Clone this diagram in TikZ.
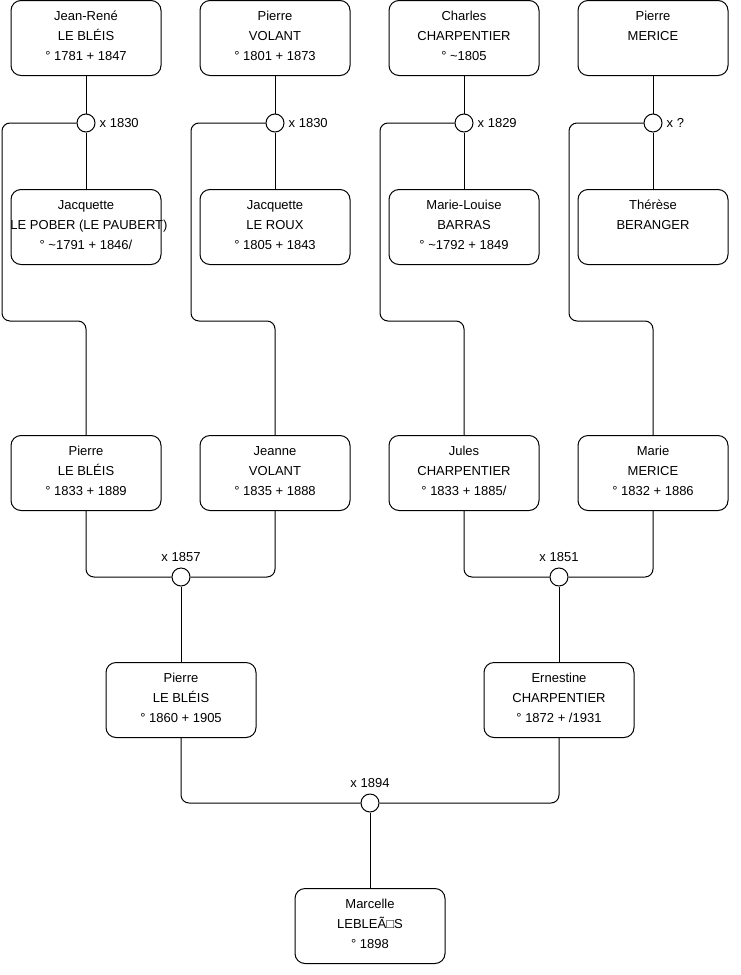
\documentclass[tikz,border=0pt]{standalone}
\usepackage{fontspec}
\setmainfont{Liberation Sans}
\begin{document}
\begin{tikzpicture}[x=1pt,y=-1pt,
  person/.style={draw=black,line width=1pt,rounded corners=10pt,minimum width=150pt,minimum height=75pt,inner sep=0pt,align=center,font=\fontsize{13pt}{20pt}\selectfont,text depth=4pt},
  wed/.style={draw=black,fill=white,line width=1pt,circle,minimum size=18pt,inner sep=0pt},
  lbl/.style={font=\fontsize{13pt}{15pt}\selectfont,inner sep=0pt},
  link/.style={draw=black,line width=1pt,rounded corners=8pt}]
\useasboundingbox (0,0) rectangle (740,975);
\fill[white] (0,0) rectangle (740,975);
% row 1
\node[person] (a1) at (86,38) {Jean-René\\LE BLÉIS\\° 1781 + 1847};
\node[person] (a2) at (275,38) {Pierre\\VOLANT\\° 1801 + 1873};
\node[person] (a3) at (464,38) {Charles\\CHARPENTIER\\° \textasciitilde1805};
\node[person] (a4) at (653,38) {Pierre\\MERICE\\\strut};
% row 2
\node[person] (b1) at (86,227) {Jacquette\\\makebox[0pt]{\hspace*{6pt}LE POBER (LE PAUBERT)}\\° \textasciitilde1791 + 1846/};
\node[person] (b2) at (275,227) {Jacquette\\LE ROUX\\° 1805 + 1843};
\node[person] (b3) at (464,227) {Marie-Louise\\BARRAS\\° \textasciitilde1792 + 1849};
\node[person] (b4) at (653,227) {Thérèse\\BERANGER\\\strut};
% row 3
\node[person] (c1) at (86,473) {Pierre\\LE BLÉIS\\° 1833 + 1889};
\node[person] (c2) at (275,473) {Jeanne\\VOLANT\\° 1835 + 1888};
\node[person] (c3) at (464,473) {Jules\\CHARPENTIER\\° 1833 + 1885/};
\node[person] (c4) at (653,473) {Marie\\MERICE\\° 1832 + 1886};
% row 4
\node[person] (d1) at (181,700) {Pierre\\LE BLÉIS\\° 1860 + 1905};
\node[person] (d2) at (559,700) {Ernestine\\CHARPENTIER\\° 1872 + /1931};
% row 5
\node[person] (e1) at (370,926) {Marcelle\\LEBLEÃ□S\\° 1898};
% marriages
\node[wed] (m1) at (86,123) {};
\node[wed] (m2) at (275,123) {};
\node[wed] (m3) at (464,123) {};
\node[wed] (m4) at (653,123) {};
\node[wed] (m5) at (181,577) {};
\node[wed] (m6) at (559,577) {};
\node[wed] (m7) at (370,803) {};
% marriage labels
\node[lbl,anchor=west] (l1) at ([xshift=4pt]m1.east) {x 1830};
\node[lbl,anchor=west] (l2) at ([xshift=4pt]m2.east) {x 1830};
\node[lbl,anchor=west] (l3) at ([xshift=4pt]m3.east) {x 1829};
\node[lbl,anchor=west] (l4) at ([xshift=4pt]m4.east) {x ?};
\node[lbl,anchor=south] (l5) at ([yshift=6pt]m5.north) {x 1857};
\node[lbl,anchor=south] (l6) at ([yshift=6pt]m6.north) {x 1851};
\node[lbl,anchor=south] (l7) at ([yshift=6pt]m7.north) {x 1894};
% couples top
\foreach \i in {1,2,3,4}{
  \draw[link] (a\i.south) -- (m\i.north);
  \draw[link] (m\i.south) -- (b\i.north);
}
% children of row 1 couples
\draw[link] (m1.west) -- (2,123) -- (2,321) -- (86,321) -- (c1.north);
\draw[link] (m2.west) -- (191,123) -- (191,321) -- (275,321) -- (c2.north);
\draw[link] (m3.west) -- (380,123) -- (380,321) -- (464,321) -- (c3.north);
\draw[link] (m4.west) -- (569,123) -- (569,321) -- (653,321) -- (c4.north);
% row 3 couples
\draw[link] (c1.south) -- (86,577) -- (m5.west);
\draw[link] (c2.south) -- (275,577) -- (m5.east);
\draw[link] (m5.south) -- (d1.north);
\draw[link] (c3.south) -- (464,577) -- (m6.west);
\draw[link] (c4.south) -- (653,577) -- (m6.east);
\draw[link] (m6.south) -- (d2.north);
% row 4 couple
\draw[link] (d1.south) -- (181,803) -- (m7.west);
\draw[link] (d2.south) -- (559,803) -- (m7.east);
\draw[link] (m7.south) -- (e1.north);
\end{tikzpicture}
\end{document}
